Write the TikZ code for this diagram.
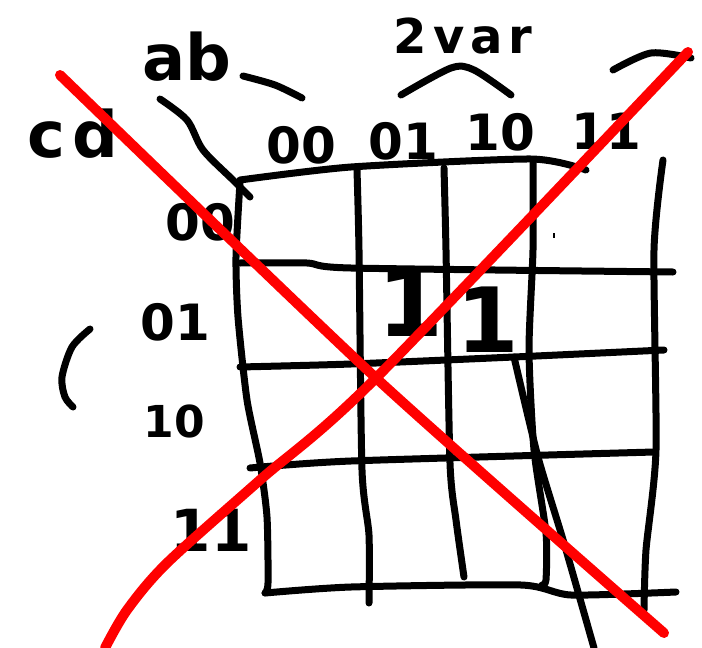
\documentclass[tikz,border=0pt]{standalone}
\usepackage{fontspec}
\setmainfont{DejaVu Sans}
\tikzset{
  ink/.style={line width=7pt, line cap=round, line join=round},
  redink/.style={red, line width=10pt, line cap=round, line join=round},
  hand/.style={inner sep=0pt, font=\fontsize{#1}{#1}\selectfont\bfseries},
}
\begin{document}
\begin{tikzpicture}[x=1pt, y=-1pt]
  \useasboundingbox (0,0) rectangle (702,648);
  % --- labels ---
  \node[hand=64] (ab) at (187,57) {ab};
  \node[hand=64] (cd) at (73,134) {\addfontfeature{LetterSpace=12}cd};
  \node[hand=48] (var) at (463,36) {\addfontfeature{LetterSpace=12}2var};
  \node[hand=50] (t00) at (301,145) {00};
  \node[hand=50] (t01) at (403,141) {01};
  \node[hand=50] (t10) at (500,132) {10};
  \node[hand=50] (t11) at (606,131) {11};
  \node[hand=50] (l00) at (200,222) {00};
  \node[hand=50] (l01) at (175,322) {01};
  \node[hand=44] (l10) at (174,421) {10};
  \node[hand=58] (l11) at (211,530) {11};
  \node[hand=95] (one1) at (411,302) {1};
  \node[hand=90] (one2) at (488,320) {1};

  % --- marks round the labels ---
  \draw[ink] plot[smooth] coordinates {(243,76) (275,85) (302,98)};
  \draw[ink] plot[smooth] coordinates {(160,99) (187,120) (203,150) (233,180) (250,197)};
  \draw[ink] plot[smooth] coordinates {(401,95) (451,68) (474,70) (511,95)};
  \draw[ink] plot[smooth] coordinates {(613,70) (651,53) (691,58)};
  \draw[ink] plot[smooth] coordinates {(90,329) (72,347) (62,377) (65,397) (73,407)};
  \draw[line width=2pt] (554,233) -- (554,238);

  % --- grid: rows ---
  \draw[ink] plot[smooth, tension=0.4] coordinates {(240,180) (351,167) (531,159) (586,170)};
  \draw[ink] plot[smooth, tension=0.4] coordinates {(240,263) (307,263) (351,268) (673,272)};
  \draw[ink] plot[smooth, tension=0.4] coordinates {(240,367) (351,364) (514,357) (664,350)};
  \draw[ink] plot[smooth, tension=0.4] coordinates {(250,468) (351,461) (654,452)};
  \draw[ink] plot[smooth, tension=0.4] coordinates {(265,593) (351,587) (521,585) (571,595) (676,592)};

  % --- grid: columns ---
  \draw[ink] plot[smooth, tension=0.4] coordinates {(240,182) (236,257) (238,317) (247,400) (260,463) (267,517) (268,583) (265,593)};
  \draw[ink] plot[smooth, tension=0.4] coordinates {(357,170) (359,250) (362,470) (369,535) (369,603)};
  \draw[ink] plot[smooth, tension=0.4] coordinates {(444,168) (446,250) (450,463) (456,520) (464,577)};
  \draw[ink] plot[smooth, tension=0.4] coordinates {(533,160) (533,250) (529,350) (534,450) (546,533) (546,580) (542,585)};
  \draw[ink] plot[smooth, tension=0.4] coordinates {(663,160) (654,250) (656,450) (646,550) (644,610)};
  \draw[ink] plot[smooth, tension=0.4] coordinates {(514,357) (538,457) (564,543) (594,648)};

  % --- red cross ---
  \coordinate (X) at (376,378);
  \draw[redink] plot[smooth, tension=0.4] coordinates {(60,75) (X) (664,633)};
  \draw[redink] plot[smooth, tension=0.5] coordinates {(688,52) (X) (260,480) (167,563) (127,610) (105,648)};
\end{tikzpicture}
\end{document}
